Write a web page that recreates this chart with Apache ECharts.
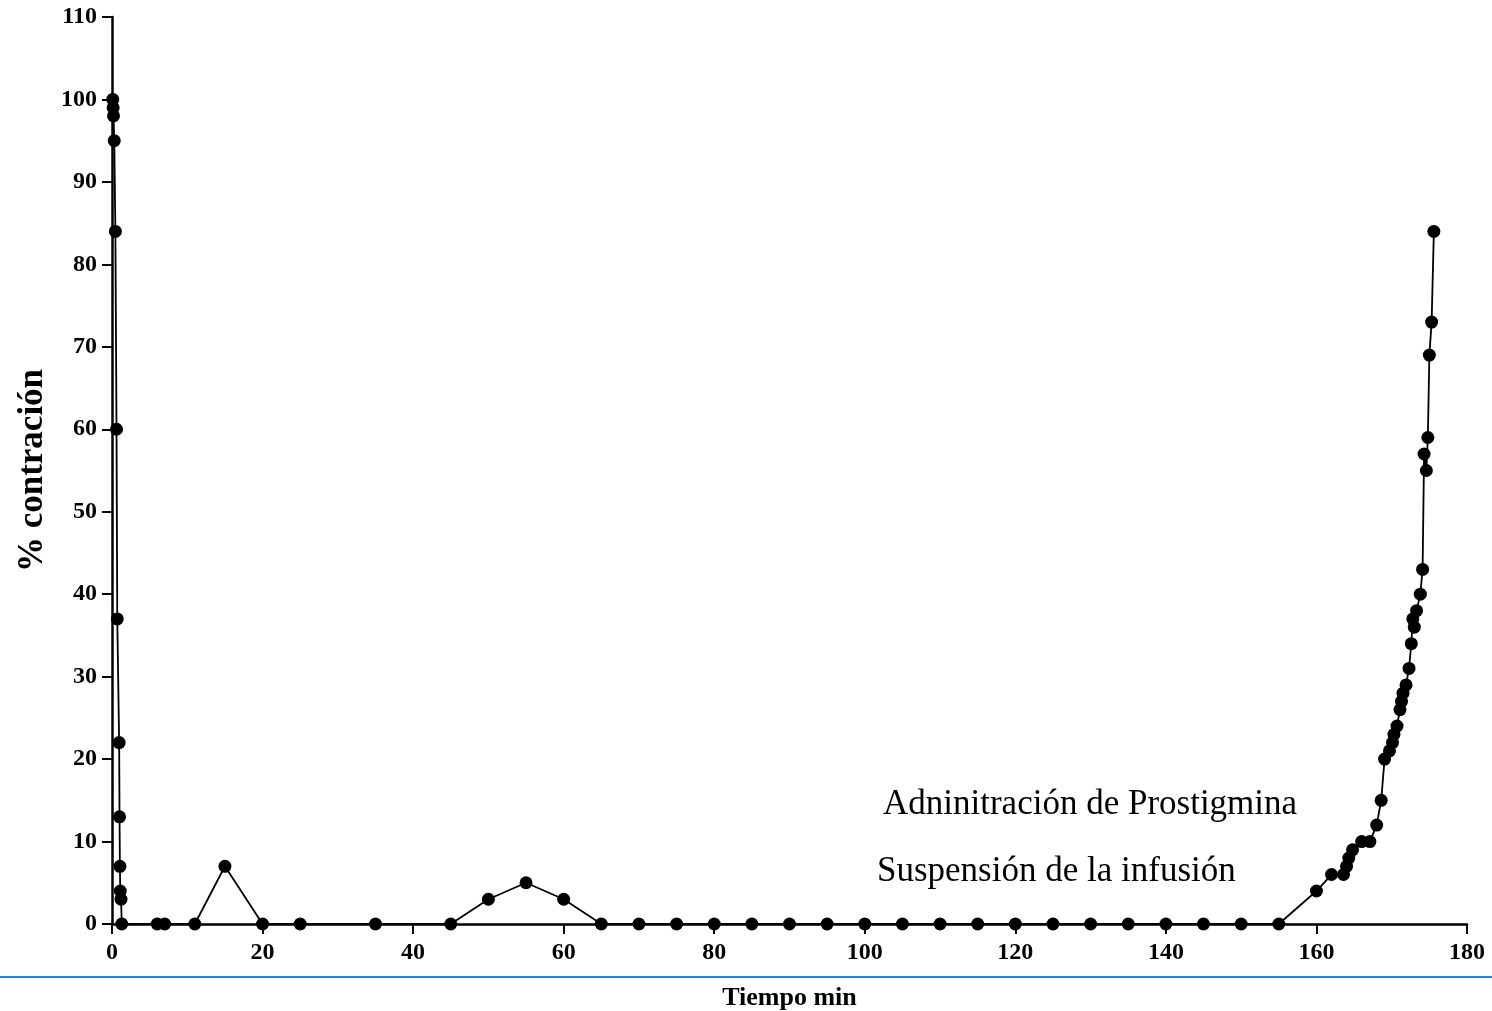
<!DOCTYPE html>
<html lang="es">
<head>
    <meta charset="UTF-8">
    <title>% contración</title>
    <script src="https://cdn.jsdelivr.net/npm/echarts@6/dist/echarts.min.js"></script>
    <style>
        html, body { margin: 0; padding: 0; background: #fff; }
    </style>
</head>
<body>
<div id="main" style="width: 1492px; height: 1011px;"></div>
</body>
<script>
    // tiempo (min) y % de contracción
    var tiempo = [
        0.1, 0.15, 0.2, 0.3, 0.45, 0.6, 0.7, 0.95, 1.0, 1.05, 1.1, 1.2, 1.3,
        6, 7, 11, 15, 20, 25, 35, 45, 50, 55, 60, 65, 70, 75, 80, 85, 90, 95,
        100, 105, 110, 115, 120, 125, 130, 135, 140, 145, 150, 155,
        160, 162, 163.6, 164, 164.3, 164.8, 166, 167.1, 168, 168.6, 169.05, 169.7,
        170.1, 170.3, 170.7, 171.1, 171.3, 171.5, 171.9, 172.3, 172.6, 172.8, 173.0, 173.3,
        173.8, 174.1, 174.3, 174.6, 174.8, 175.0, 175.3, 175.6
    ]
    var contraccion = [
        100, 99, 98, 95, 84, 60, 37, 22, 13, 7, 4, 3, 0,
        0, 0, 0, 7, 0, 0, 0, 0, 3, 5, 3, 0, 0, 0, 0, 0, 0, 0,
        0, 0, 0, 0, 0, 0, 0, 0, 0, 0, 0, 0,
        4, 6, 6, 7, 8, 9, 10, 10, 12, 15, 20, 21,
        22, 23, 24, 26, 27, 28, 29, 31, 34, 37, 36, 38,
        40, 43, 57, 55, 59, 69, 73, 84
    ]
    var xTicks = { min: 0, max: 180, interval: 20 }
    var yTicks = { min: 0, max: 110, interval: 10 }
    var notas = ['Adninitración de Prostigmina', 'Suspensión de la infusión']

    var puntos = tiempo.map(function (t, i) { return [t, contraccion[i]] })

    var myChart = echarts.init(document.getElementById("main"))
    var fuente = "'Liberation Serif', 'Times New Roman', serif"
    var option = {
        animation: false,
        grid: {
            left: 112,
            right: 25,
            top: 17,
            bottom: 87,
            outerBoundsMode: 'none'
        },
        // ---- x ----
        xAxis: {
            type: 'value',
            min: xTicks.min,
            max: xTicks.max,
            interval: xTicks.interval,
            name: 'Tiempo min',
            nameLocation: 'middle',
            nameGap: 61,
            nameTextStyle: {
                fontFamily: fuente,
                fontWeight: 'bold',
                fontSize: 26,
                color: '#000'
            },
            axisLine: { lineStyle: { color: '#000', width: 2.5 } },
            axisTick: { length: 10, lineStyle: { color: '#000', width: 2 } },
            axisLabel: {
                margin: 17,
                fontFamily: fuente,
                fontWeight: 'bold',
                fontSize: 24,
                color: '#000'
            },
            splitLine: { show: false }
        },
        // ---- y ----
        yAxis: {
            type: 'value',
            min: yTicks.min,
            max: yTicks.max,
            interval: yTicks.interval,
            name: '% contración',
            nameLocation: 'middle',
            nameRotate: 90,
            nameGap: 62,
            nameTextStyle: {
                fontFamily: fuente,
                fontWeight: 'bold',
                fontSize: 35,
                color: '#000'
            },
            axisLine: { show: true, lineStyle: { color: '#000', width: 2.5 } },
            axisTick: { show: true, length: 10, lineStyle: { color: '#000', width: 2 } },
            axisLabel: {
                margin: 15,
                fontFamily: fuente,
                fontWeight: 'bold',
                fontSize: 24,
                color: '#000'
            },
            splitLine: { show: false }
        },
        series: [
            {
                type: 'line',
                data: puntos,
                symbol: 'circle',
                symbolSize: 13,
                showAllSymbol: true,
                lineStyle: { color: '#000', width: 1.8 },
                itemStyle: { color: '#000' },
                z: 3
            }
        ],
        graphic: [
            {
                type: 'text',
                x: 883,
                y: 805,
                style: {
                    text: notas[0],
                    font: "35px 'Liberation Serif', 'Times New Roman', serif",
                    textVerticalAlign: 'middle',
                    fill: '#000'
                }
            },
            {
                type: 'text',
                x: 877,
                y: 872,
                style: {
                    text: notas[1],
                    font: "35px 'Liberation Serif', 'Times New Roman', serif",
                    textVerticalAlign: 'middle',
                    fill: '#000'
                }
            },
            {
                type: 'line',
                shape: { x1: 0, y1: 977, x2: 1492, y2: 977 },
                style: { stroke: '#1a8ae0', lineWidth: 2 }
            }
        ]
    };
    myChart.setOption(option);
</script>
</html>
